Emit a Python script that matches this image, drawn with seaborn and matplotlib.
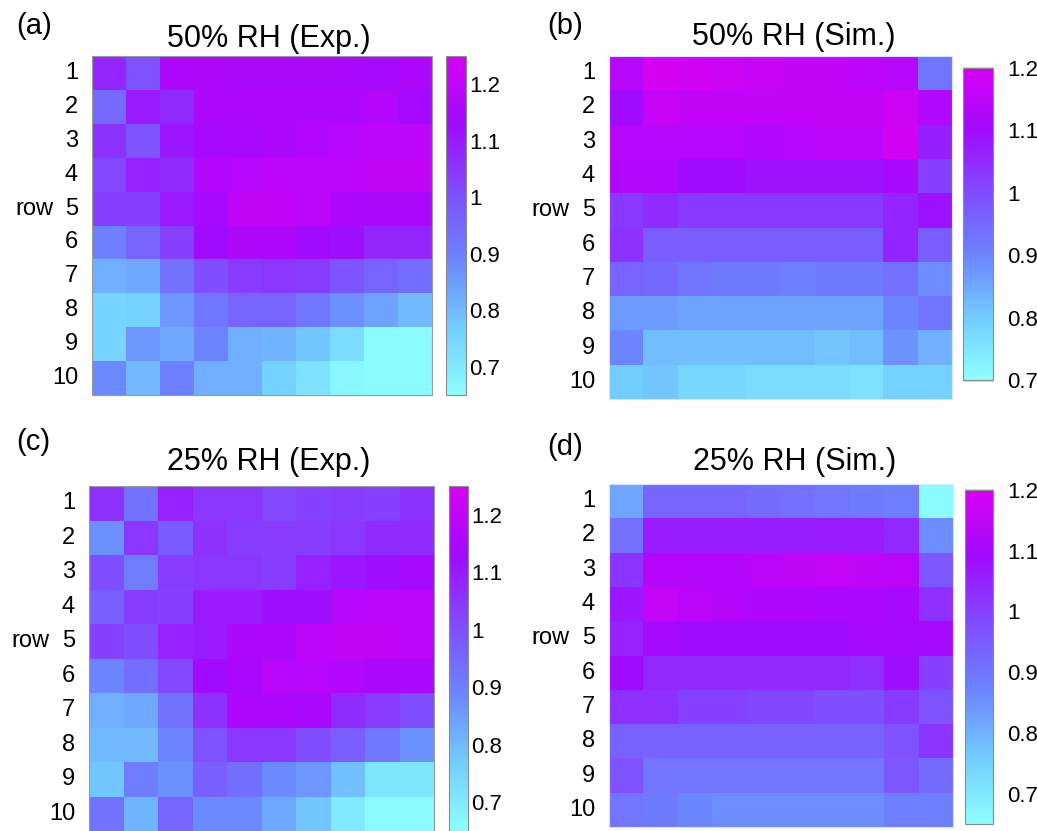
import numpy as np
import pandas as pd
import matplotlib
matplotlib.use("Agg")
import matplotlib.pyplot as plt
import matplotlib.transforms as mtransforms
from matplotlib.colors import LinearSegmentedColormap
from matplotlib.ticker import FuncFormatter
import seaborn as sns

# Normalized values on a 10 x 10 grid (rows 1..10 top to bottom, columns left to right)
rows = [str(i) for i in range(1, 11)]
cols = [str(i) for i in range(1, 11)]

exp50 = [
    [1.08, 1.00, 1.16, 1.16, 1.15, 1.15, 1.15, 1.15, 1.14, 1.16],
    [0.95, 1.10, 1.07, 1.16, 1.16, 1.16, 1.16, 1.16, 1.17, 1.14],
    [1.06, 0.99, 1.11, 1.14, 1.15, 1.16, 1.17, 1.18, 1.19, 1.19],
    [1.02, 1.09, 1.07, 1.17, 1.18, 1.19, 1.19, 1.19, 1.20, 1.20],
    [1.03, 1.03, 1.10, 1.14, 1.20, 1.20, 1.19, 1.16, 1.15, 1.15],
    [0.90, 0.96, 1.03, 1.13, 1.16, 1.16, 1.13, 1.12, 1.08, 1.08],
    [0.82, 0.83, 0.93, 1.01, 1.04, 1.05, 1.04, 0.99, 0.96, 0.94],
    [0.75, 0.76, 0.86, 0.92, 0.96, 0.96, 0.92, 0.87, 0.84, 0.80],
    [0.75, 0.86, 0.83, 0.89, 0.82, 0.81, 0.78, 0.73, 0.66, 0.66],
    [0.88, 0.80, 0.90, 0.82, 0.82, 0.76, 0.72, 0.67, 0.66, 0.66],
]

sim50 = [
    [1.14, 1.20, 1.19, 1.18, 1.17, 1.16, 1.16, 1.15, 1.14, 0.93],
    [1.10, 1.17, 1.16, 1.16, 1.16, 1.16, 1.16, 1.16, 1.18, 1.13],
    [1.14, 1.14, 1.14, 1.14, 1.13, 1.14, 1.15, 1.15, 1.19, 1.07],
    [1.13, 1.13, 1.10, 1.10, 1.09, 1.09, 1.09, 1.09, 1.11, 1.02],
    [1.03, 1.05, 1.03, 1.03, 1.03, 1.03, 1.03, 1.03, 1.06, 1.09],
    [1.04, 0.97, 0.97, 0.97, 0.97, 0.97, 0.97, 0.97, 1.06, 0.97],
    [0.96, 0.95, 0.93, 0.92, 0.92, 0.91, 0.92, 0.92, 0.94, 0.89],
    [0.87, 0.87, 0.86, 0.86, 0.86, 0.86, 0.86, 0.86, 0.90, 0.93],
    [0.90, 0.82, 0.82, 0.82, 0.82, 0.82, 0.81, 0.82, 0.88, 0.84],
    [0.80, 0.81, 0.78, 0.78, 0.77, 0.77, 0.77, 0.76, 0.79, 0.79],
]

exp25 = [
    [1.06, 0.93, 1.09, 1.05, 1.05, 1.02, 1.03, 1.04, 1.03, 1.06],
    [0.87, 1.05, 0.98, 1.06, 1.04, 1.04, 1.04, 1.05, 1.07, 1.07],
    [1.01, 0.91, 1.04, 1.05, 1.05, 1.04, 1.09, 1.11, 1.12, 1.14],
    [0.97, 1.04, 1.03, 1.10, 1.10, 1.12, 1.12, 1.18, 1.19, 1.19],
    [1.03, 1.01, 1.09, 1.10, 1.16, 1.16, 1.19, 1.20, 1.20, 1.19],
    [0.89, 0.94, 1.02, 1.13, 1.15, 1.18, 1.18, 1.17, 1.15, 1.15],
    [0.82, 0.83, 0.93, 1.06, 1.16, 1.16, 1.15, 1.07, 1.04, 1.01],
    [0.80, 0.80, 0.89, 1.00, 1.05, 1.05, 1.01, 0.97, 0.92, 0.87],
    [0.78, 0.91, 0.87, 0.97, 0.94, 0.88, 0.86, 0.79, 0.71, 0.71],
    [0.93, 0.81, 0.96, 0.88, 0.88, 0.83, 0.78, 0.70, 0.66, 0.66],
]

sim25 = [
    [0.82, 0.93, 0.93, 0.93, 0.92, 0.91, 0.90, 0.89, 0.88, 0.66],
    [0.91, 1.06, 1.06, 1.06, 1.06, 1.06, 1.06, 1.06, 1.04, 0.86],
    [1.02, 1.13, 1.13, 1.13, 1.14, 1.15, 1.16, 1.15, 1.14, 0.96],
    [1.07, 1.16, 1.14, 1.13, 1.12, 1.12, 1.11, 1.11, 1.10, 1.03],
    [1.05, 1.10, 1.09, 1.09, 1.09, 1.09, 1.09, 1.10, 1.10, 1.10],
    [1.09, 1.04, 1.04, 1.04, 1.04, 1.04, 1.04, 1.03, 1.08, 1.00],
    [1.03, 1.03, 1.00, 1.00, 0.99, 0.99, 0.98, 0.98, 1.01, 0.97],
    [0.94, 0.94, 0.94, 0.94, 0.94, 0.94, 0.94, 0.94, 0.97, 1.02],
    [0.97, 0.90, 0.90, 0.90, 0.90, 0.90, 0.90, 0.90, 0.96, 0.92],
    [0.90, 0.89, 0.87, 0.86, 0.86, 0.86, 0.86, 0.86, 0.88, 0.88],
]

titles = ["50% RH (Exp.)", "50% RH (Sim.)", "25% RH (Exp.)", "25% RH (Sim.)"]
panel_tags = ["(a)", "(b)", "(c)", "(d)"]
cbar_ticks = [0.7, 0.8, 0.9, 1.0, 1.1, 1.2]

sns.set_style("white")
plt.rcParams["font.family"] = ["Liberation Sans", "DejaVu Sans"]
plt.rcParams["text.color"] = "black"

cmap = LinearSegmentedColormap.from_list(
    "rh",
    [(0.0, (0.55, 1.00, 1.00)),
     (0.2, (0.45, 0.80, 1.00)),
     (0.4, (0.42, 0.52, 1.00)),
     (0.6, (0.50, 0.30, 1.00)),
     (0.8, (0.63, 0.04, 1.00)),
     (1.0, (0.84, 0.00, 0.95))],
)

W, H = 1037, 831
fig = plt.figure(figsize=(W / 100, H / 100), dpi=100)


def box(x0, y0, x1, y1):
    """Pixel box (top-left origin) -> figure fraction rect."""
    return [x0 / W, 1 - y1 / H, (x1 - x0) / W, (y1 - y0) / H]


panels = [
    dict(data=exp50, ax=box(92, 56, 432, 395), cax=box(446, 56, 466, 395),
         vmin=0.65, vmax=1.25, kind="exp", tx=0.52, tpad=6.5, tag=(16, 26)),
    dict(data=sim50, ax=box(609, 56, 952, 399), cax=box(963, 68, 993, 380),
         vmin=0.70, vmax=1.20, kind="sim", tx=0.54, tpad=8, tag=(547, 26)),
    dict(data=exp25, ax=box(89, 486, 434, 831), cax=box(449, 486, 468, 831),
         vmin=0.65, vmax=1.25, kind="exp", tx=0.52, tpad=11.5, tag=(16, 442)),
    dict(data=sim25, ax=box(609, 484, 953, 827), cax=box(965, 490, 993, 824),
         vmin=0.65, vmax=1.20, kind="sim", tx=0.54, tpad=10, tag=(547, 447)),
]

fmt = FuncFormatter(lambda v, p: f"{v:g}")

for p, title, tag in zip(panels, titles, panel_tags):
    ax = fig.add_axes(p["ax"])
    cax = fig.add_axes(p["cax"])
    df = pd.DataFrame(p["data"], index=rows, columns=cols)
    sns.heatmap(df, ax=ax, cbar_ax=cax, cmap=cmap, vmin=p["vmin"], vmax=p["vmax"],
                xticklabels=False, yticklabels=rows, linewidths=0)

    ax.set_ylabel("")
    ax.set_xlabel("")
    ax.tick_params(axis="y", labelsize=17, rotation=0, labelcolor="black")
    for s in ax.spines.values():
        s.set_visible(True)
        s.set_linewidth(0.8)

    if p["kind"] == "exp":
        for s in ax.spines.values():
            s.set_color("#9a9a9a")
        ax.set_xticks(np.arange(1, 10, 2) + 0.5)
        ax.set_xticklabels([])
        ax.tick_params(direction="in", length=4, width=0.8, color="#555555",
                       top=True, right=True, bottom=True, left=True)
        ax.tick_params(axis="y", pad=10)
    else:
        for s in ax.spines.values():
            s.set_color("#d8e4ff")
        ax.tick_params(axis="both", length=0)
        ax.tick_params(axis="y", pad=10)

    ax.text(-0.115, 4.5, "row", fontsize=17, ha="right", va="center",
            transform=mtransforms.blended_transform_factory(ax.transAxes, ax.transData))

    ax.set_title(title, fontsize=22, x=p["tx"], pad=p["tpad"], color="black")
    fig.text(p["tag"][0] / W, 1 - p["tag"][1] / H, tag, fontsize=21,
             ha="left", va="center")

    cb = ax.collections[0].colorbar
    cb.set_ticks(cbar_ticks)
    cb.ax.yaxis.set_major_formatter(fmt)
    cb.outline.set_edgecolor("#8a8a8a")
    cb.outline.set_linewidth(0.8)
    if p["kind"] == "exp":
        cb.ax.tick_params(direction="in", length=4, width=0.8, color="#555555",
                          labelsize=16, pad=2, labelcolor="black")
    else:
        cbw = (p["cax"][2] * W) * 72 / 100
        cb.ax.tick_params(direction="in", length=cbw, width=1.0, color="#3a3a5a",
                          labelsize=16, pad=10, labelcolor="black")

fig.savefig("out.png", dpi=100)
